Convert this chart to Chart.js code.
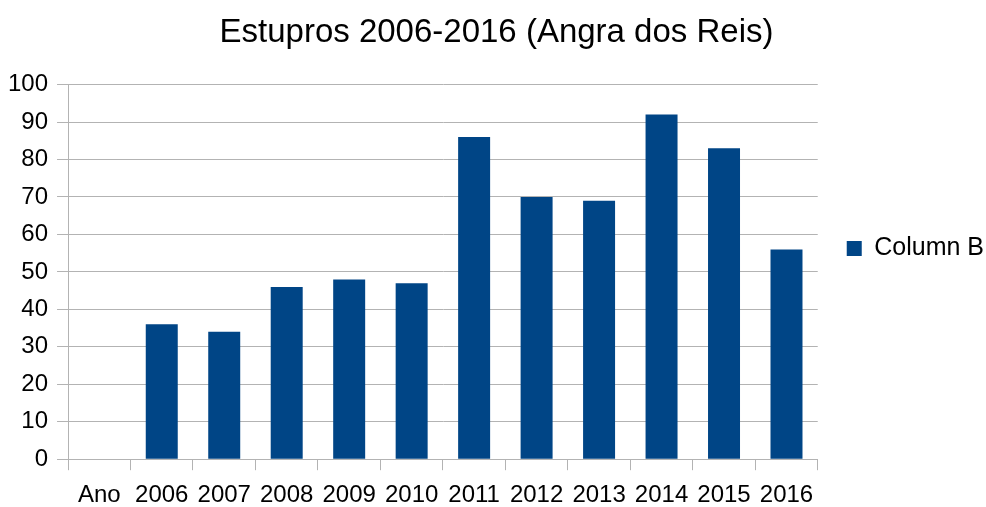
<!DOCTYPE html>
<html>
<head>
<meta charset="utf-8">
<script src="https://cdn.jsdelivr.net/npm/chart.js@4/dist/chart.umd.min.js"></script>
<style>
  html, body { margin: 0; padding: 0; background: #fff; }
  canvas { display: block; }
</style>
</head>
<body>
<canvas id="chart" width="986" height="507"></canvas>
<script>
const categories = ['Ano', '2006', '2007', '2008', '2009', '2010', '2011', '2012', '2013', '2014', '2015', '2016'];
const columnB = [null, 36, 34, 46, 48, 47, 86, 70, 69, 92, 83, 56];
const yTicks = [0, 10, 20, 30, 40, 50, 60, 70, 80, 90, 100];

const gridGrey = '#b3b3b3';
const fontFamily = '"Liberation Sans", Arial, sans-serif';

const ctx = document.getElementById('chart').getContext('2d');
new Chart(ctx, {
    type: 'bar',
    data: {
        labels: categories,
        datasets: [{
            label: 'Column B',
            data: columnB,
            backgroundColor: '#004586',
            borderWidth: 0,
            barPercentage: 0.512,
            categoryPercentage: 1
        }]
    },
    options: {
        responsive: false,
        animation: false,
        devicePixelRatio: 1,
        // negative paddings pull the legend up so it sits where the original does
        layout: { padding: { left: -1, right: -8, top: -24, bottom: -14 } },
        plugins: {
            title: {
                display: true,
                text: 'Estupros 2006-2016 (Angra dos Reis)',
                color: '#000',
                font: { family: fontFamily, size: 33, weight: 'normal' },
                padding: { top: 37, bottom: 32 }
            },
            legend: {
                display: true,
                position: 'right',
                labels: {
                    color: '#000',
                    font: { family: fontFamily, size: 25 },
                    boxWidth: 15,
                    boxHeight: 15,
                    padding: 29
                }
            },
            tooltip: { enabled: false }
        },
        scales: {
            x: {
                grid: {
                    offset: true,
                    tickLength: 11,
                    color: c => (c.index === 0 || c.index === categories.length) ? gridGrey : 'rgba(0,0,0,0)',
                    tickColor: gridGrey
                },
                border: { color: gridGrey },
                ticks: {
                    color: '#000',
                    font: { family: fontFamily, size: 24 },
                    padding: 11,
                    maxRotation: 0,
                    autoSkip: false
                }
            },
            y: {
                min: 0,
                max: 100,
                afterBuildTicks: axis => { axis.ticks = yTicks.map(v => ({ value: v })); },
                grid: { color: gridGrey, tickLength: 11, tickColor: gridGrey },
                border: { color: gridGrey },
                ticks: {
                    color: '#000',
                    font: { family: fontFamily, size: 24 },
                    padding: 9
                }
            }
        }
    }
});
</script>
</body>
</html>
